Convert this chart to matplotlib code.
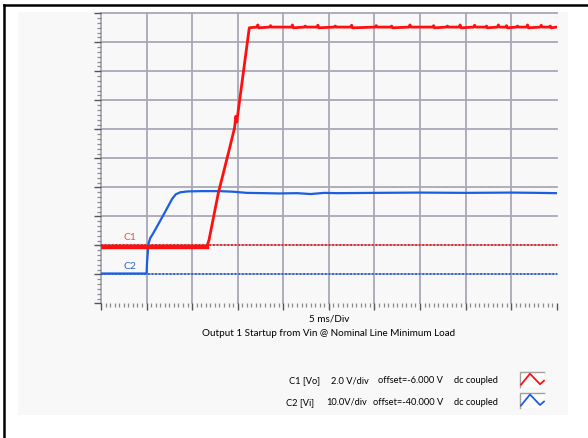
import matplotlib
matplotlib.use("Agg")
import matplotlib.pyplot as plt
from matplotlib.lines import Line2D
from matplotlib.patches import Rectangle
import numpy as np

# ---------------- data (time in ms, voltages in V) ----------------
red_t = [0.0, 11.6, 11.85, 12.87, 14.15, 14.65, 14.80, 14.90, 15.0, 16.27,
         17.1, 17.2, 17.3, 18.5, 18.6, 18.7, 20.9, 21.0, 21.1, 22.3, 22.4, 22.5,
         23.7, 23.8, 23.9, 25.6, 25.7, 25.8, 27.4, 27.5, 27.6, 30.1, 30.2, 30.3,
         31.8, 31.9, 32.0, 33.8, 33.9, 34.0, 36.4, 36.5, 36.6, 37.9, 38.0, 38.1,
         39.3, 39.4, 39.5, 40.9, 41.0, 41.1, 42.2, 42.3, 42.4, 43.5, 43.6, 43.7,
         44.4, 44.5, 44.6, 45.6, 45.7, 45.8, 46.7, 46.8, 46.9, 48.2, 48.3, 48.4,
         49.2, 49.3, 49.4, 50.0]
red_v = [-0.1, -0.1, 0.37, 3.6, 6.8, 8.1, 8.9, 8.5, 9.0, 15.0,
         15.05, 15.2, 15.0, 15.05, 15.15, 15.05, 15.05, 15.2, 15.0, 15.05, 15.12, 15.05,
         15.05, 15.18, 15.0, 15.05, 15.12, 15.05, 15.05, 15.18, 15.0, 15.05, 15.15, 15.05,
         15.05, 15.12, 15.0, 15.05, 15.2, 15.05, 15.05, 15.15, 15.0, 15.05, 15.12, 15.05,
         15.05, 15.2, 15.0, 15.05, 15.18, 15.05, 15.05, 15.12, 15.0, 15.05, 15.2, 15.05,
         15.05, 15.15, 15.0, 15.05, 15.12, 15.05, 15.05, 15.2, 15.0, 15.05, 15.18, 15.05,
         15.05, 15.12, 15.0, 15.05]
red_low_end = 11.6  # end of the noisy low segment (ms)

blue_t = [0.0, 5.0, 5.05, 5.2, 5.4, 5.7, 6.5, 7.2, 7.8, 8.2, 8.7, 9.5, 11.0, 13.0,
          14.5, 16.0, 18.0, 19.5, 21.5, 23.0, 24.5, 26.0, 30.0, 35.0, 40.0, 45.0, 48.0, 50.0]
blue_v = [0.3, 0.3, 4.0, 10.5, 12.5, 14.0, 18.5, 22.5, 26.0, 27.6, 28.3, 28.6, 28.7, 28.7,
          28.5, 28.1, 28.0, 27.9, 28.0, 27.7, 28.1, 28.0, 28.1, 28.2, 28.1, 28.2, 28.1, 28.0]

c1_scale, c1_offset = 2.0, -6.0     # V/div, offset
c2_scale, c2_offset = 10.0, -40.0

x_label = "5 ms/Div"
title = "Output 1 Startup from Vin @ Nominal Line Minimum Load"
leg_rows = [["C1 [Vo]", "2.0 V/div", "offset=-6.000 V", "dc coupled"],
            ["C2 [Vi]", "10.0V/div", "offset=-40.000 V", "dc coupled"]]

RED = "#ff1010"
BLUE = "#1c5ee0"
GRID = "#a8a8b8"
BG = "#f8f8f8"
FONT = "Lato"
FS = 7.1
FS_LEG = 6.7

W, H = 588, 438
fig = plt.figure(figsize=(W / 100, H / 100), dpi=100)
fig.patch.set_facecolor("white")

def fx(x):
    return x / W

def fy(y):
    return 1 - y / H

# gray panel
fig.add_artist(Rectangle((fx(18), fy(414.7)), fx(568) - fx(18), fy(12) - fy(414.7),
                         transform=fig.transFigure, facecolor=BG, edgecolor="none", zorder=0))
# black frame lines (top and left)
fig.add_artist(Line2D([fx(3.5), fx(588)], [fy(4.5), fy(4.5)], transform=fig.transFigure,
                      color="black", lw=1.8, zorder=5))
fig.add_artist(Line2D([fx(3.5), fx(3.5)], [fy(4.5), fy(438)], transform=fig.transFigure,
                      color="black", lw=1.8, zorder=5))

L, R, T, B = 101, 556.7, 13.3, 303.4
ax = fig.add_axes([fx(L), fy(B), fx(R) - fx(L), fy(T) - fy(B)])
ax.set_facecolor(BG)
ax.set_xlim(0, 50)
ax.set_ylim(0, 10)
for s in ax.spines.values():
    s.set_visible(False)

# grid
for gx in np.arange(0, 50, 5):
    ax.axvline(gx, color=GRID, lw=1.3, zorder=1, clip_on=False)
for gy in np.arange(1, 11, 1):
    ax.axhline(gy, color=GRID, lw=1.3, zorder=1, clip_on=False)

# ticks
ax.set_xticks(np.arange(0, 50.1, 5))
ax.set_xticks(np.arange(0, 50.1, 0.5), minor=True)
ax.set_yticks(np.arange(0, 10.1, 1))
ax.set_yticks(np.arange(0, 10.01, 1 / 6), minor=True)
ax.tick_params(which="major", direction="out", length=5, width=1.0, color="#555555",
               labelbottom=False, labelleft=False)
ax.tick_params(which="minor", direction="out", length=3, width=0.9, color="#8a8a8a")

# reference markers
ref1 = 5 + c1_offset / c1_scale   # division of 0 V for C1
ref2 = 5 + c2_offset / c2_scale
ax.axhline(ref1, color=RED, lw=1.3, ls=(0, (1, 1)), zorder=2)
ax.axhline(ref2, color=BLUE, lw=1.3, ls=(0, (1, 1)), zorder=2)
ax.text(3.15, ref1 + 0.1, "C1", color="#f05050", fontsize=7.5, ha="center", va="bottom",
        family=FONT)
ax.text(3.15, ref2 + 0.1, "C2", color="#3060d0", fontsize=7.5, ha="center", va="bottom",
        family=FONT)

# traces
rt = np.array(red_t)
rv = ref1 + np.array(red_v) / c1_scale
bt = np.array(blue_t)
bv = ref2 + np.array(blue_v) / c2_scale
ax.plot(bt, bv, color=BLUE, lw=1.6, zorder=3, solid_joinstyle="round")
ax.plot(rt, rv, color=RED, lw=2.0, zorder=4, solid_joinstyle="round")
mask = rt <= red_low_end
ax.plot(rt[mask], rv[mask], color=RED, lw=3.2, zorder=4)

# texts
fig.text(fx(329), fy(319), x_label, ha="center", va="center", fontsize=FS, family=FONT)
fig.text(fx(329), fy(333), title, ha="center", va="center", fontsize=FS, family=FONT)

col_x = [[289.3, 330.7, 378.3, 454], [286, 326, 373.3, 454]]
row_y = [380.7, 402.3]
for r, row in enumerate(leg_rows):
    for c, txt in enumerate(row):
        fig.text(fx(col_x[r][c]), fy(row_y[r]), txt, ha="left", va="center", fontsize=FS_LEG,
                 family=FONT)

# legend icons
icon_colors = [RED, BLUE]
icon_top = [371.7, 392.5]
for i in range(2):
    x0, y0, w, h = 520, icon_top[i], 24, 15
    fig.add_artist(Rectangle((fx(x0), fy(y0 + h)), fx(w), h / H, transform=fig.transFigure,
                             facecolor="white", edgecolor="none", zorder=3))
    fig.add_artist(Line2D([fx(x0), fx(x0), fx(x0 + w)], [fy(y0 + h), fy(y0), fy(y0)],
                          transform=fig.transFigure, color="#a0a0a0", lw=1.0, zorder=4))
    zx = [x0 + 1, x0 + 10, x0 + 20, x0 + 24]
    zy = [y0 + 13, y0 + 2, y0 + 12.5, y0 + 9]
    fig.add_artist(Line2D([fx(v) for v in zx], [fy(v) for v in zy], transform=fig.transFigure,
                          color=icon_colors[i], lw=1.3, zorder=5))

fig.savefig("out.png", dpi=100, facecolor="white")
